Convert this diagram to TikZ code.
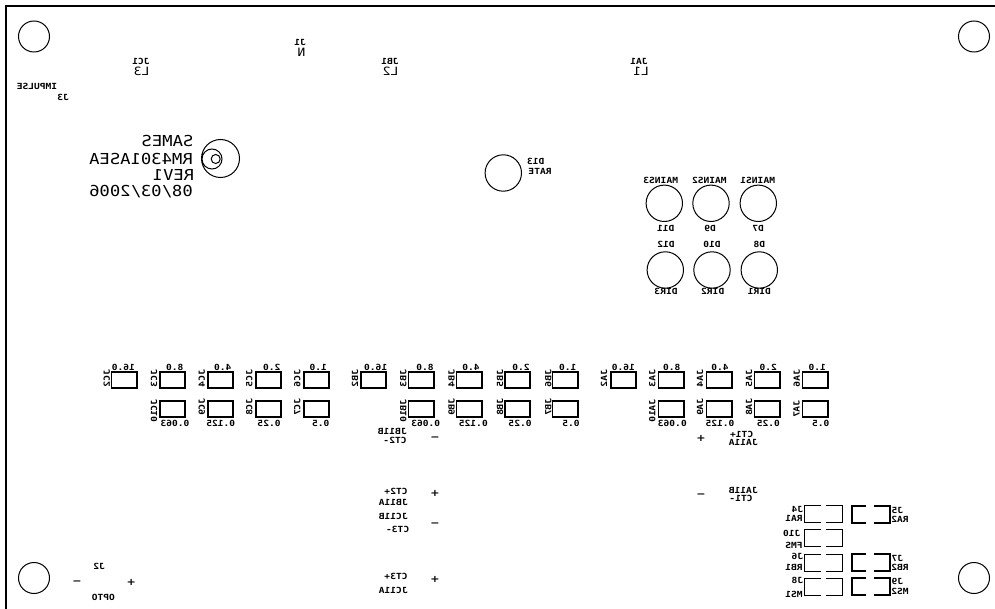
\documentclass[tikz,border=0pt]{standalone}
\usepackage{fontspec}
\usepackage{graphicx}
\newfontfamily\pcbmono{DejaVu Sans Mono}
\newfontfamily\pcbsans{DejaVu Sans}
\tikzset{
  x=1pt,y=-1pt,
  tiny lab/.style={inner sep=0pt,outer sep=0pt,font=\pcbmono\bfseries\fontsize{9.6}{10}\selectfont},
  mid lab/.style={inner sep=0pt,outer sep=0pt,font=\pcbmono\fontsize{13}{14}\selectfont},
  big lab/.style={inner sep=0pt,outer sep=0pt,font=\pcbmono\fontsize{17.2}{18}\selectfont},
  sign/.style={inner sep=0pt,outer sep=0pt,font=\pcbsans\bfseries\fontsize{11}{12}\selectfont},
  hole/.style={draw=black,line width=1pt},
  pad/.style={draw=black,line width=1.7pt},
  thin hdr/.style={draw=black,line width=1pt},
  thick hdr/.style={draw=black,line width=1.9pt},
}
\newcommand{\mtx}[5][tiny lab]{\node[#1] (#2) at (#3,#4) {\scalebox{-1}[0.88]{#5}};}
\newcommand{\vtx}[4]{\node[tiny lab] (#1) at (#2,#3) {\scalebox{-1}[1]{\rotatebox{-90}{\scalebox{1}[0.88]{#4}}}};}
\newcommand{\hdrthin}[2]{\draw[thin hdr] (#1+17,#2) -- (#1,#2) -- (#1,#2+17) -- (#1+17,#2+17) (#1+22,#2) -- (#1+38.5,#2) -- (#1+38.5,#2+17) -- (#1+22,#2+17);}
\newcommand{\hdrthick}[2]{\draw[thick hdr] (#1+14,#2) -- (#1,#2) -- (#1,#2+17) -- (#1+14,#2+17) (#1+22,#2) -- (#1+38,#2) -- (#1+38,#2+17) -- (#1+22,#2+17);}
\begin{document}
\begin{tikzpicture}
\useasboundingbox (0,0) rectangle (995,609);
\fill[white] (0,0) rectangle (995,609);
% board outline
\draw[black,line width=2.4pt] (6,609) -- (6,6) -- (995,6);
% mounting holes
\draw[hole] (34,36.5) circle (15.5) (974,36.5) circle (15.5) (34,578) circle (15.5) (974,578) circle (15.5);
% logo
\draw[hole] (220.5,158.5) circle (19) (212,159) circle (10) (215.7,159) circle (4.5);
% LEDs
\draw[hole] (503.3,173) circle (18.2);
\foreach \cx in {664.3,711,758.3} {
  \draw[hole] (\cx,203.3) circle (18.2);
  \draw[hole] (\cx+1,270) circle (18.2);
}
% top labels
\mtx{jonelab}{300}{42.7}{J1}
\mtx[mid lab]{nlab}{301.5}{52}{N}
\mtx{jclab}{141}{61}{JC1}
\mtx[mid lab]{lthree}{141.5}{71.5}{L3}
\mtx{jblab}{390}{61.5}{JB1}
\mtx[mid lab]{ltwo}{390.5}{71.5}{L2}
\mtx{jalab}{639}{61.5}{JA1}
\mtx[mid lab]{lone}{641}{71.5}{L1}
\mtx{impulse}{37}{86.3}{IMPULSE}
\mtx{jthree}{63}{97.7}{J3}
% title block
\mtx[big lab]{tsames}{167.5}{141}{SAMES}
\mtx[big lab]{tmodel}{141}{158.7}{RM4301ASEA}
\mtx[big lab]{trev}{173.5}{174.5}{REV1}
\mtx[big lab]{tdate}{141}{191.7}{08/03/2006}
% LED labels
\mtx{dthirteen}{535.7}{161}{D13}
\mtx{rate}{540}{171}{RATE}
\mtx{mainsthree}{660.7}{180}{MAINS3}
\mtx{mainstwo}{709.3}{180}{MAINS2}
\mtx{mainsone}{757.7}{180}{MAINS1}
\mtx{delev}{665.7}{228}{D11}
\mtx{dnine}{710}{228}{D9}
\mtx{dseven}{758}{228}{D7}
\mtx{dtwelve}{666}{244.3}{D12}
\mtx{dten}{712}{244.3}{D10}
\mtx{deight}{759.3}{244.3}{D8}
\mtx{dirthree}{666}{291.7}{DIR3}
\mtx{dirtwo}{712.7}{291.7}{DIR2}
\mtx{dirone}{759.3}{291.7}{DIR1}
% pads JC
\foreach \px in {111.5,160,208,256,304} {\draw[pad] (\px,372.3) rectangle ++(25.3,16);}
\foreach \px in {160,208,256,304} {\draw[pad] (\px,400.7) rectangle ++(25.3,16);}
\mtx{cwa}{123.3}{367}{16.0}
\mtx{cwb}{174.7}{367}{8.0}
\mtx{cwc}{222.7}{367}{4.0}
\mtx{cwd}{271.7}{367}{2.0}
\mtx{cwe}{318.3}{367}{1.0}
\mtx{cwf}{175}{423}{0.063}
\mtx{cwg}{220.7}{423}{0.125}
\mtx{cwh}{269}{423}{0.25}
\mtx{cwi}{320.7}{423}{0.5}
\vtx{jctwo}{106.7}{378.3}{JC2}
\vtx{jcthree}{154}{378.3}{JC3}
\vtx{jcfour}{201.7}{378.3}{JC4}
\vtx{jcfive}{249.3}{378.3}{JC5}
\vtx{jcsix}{297.3}{378.3}{JC6}
\vtx{jcten}{154}{411}{JC10}
\vtx{jcnine}{201.7}{407}{JC9}
\vtx{jceight}{249.3}{407}{JC8}
\vtx{jcseven}{297.3}{407}{JC7}
% pads JB
\foreach \px in {361,408.5,456.5,505,552.5} {\draw[pad] (\px,372.3) rectangle ++(25.3,16);}
\foreach \px in {408.5,456.5,505,552.5} {\draw[pad] (\px,400.7) rectangle ++(25.3,16);}
\mtx{bwa}{375.7}{367}{16.0}
\mtx{bwb}{425}{367}{8.0}
\mtx{bwc}{471}{367}{4.0}
\mtx{bwd}{521}{367}{2.0}
\mtx{bwe}{567.7}{367}{1.0}
\mtx{bwf}{425.7}{423}{0.063}
\mtx{bwg}{473.3}{423}{0.125}
\mtx{bwh}{520}{423}{0.25}
\mtx{bwi}{571}{423}{0.5}
\vtx{jbtwo}{355}{378.3}{JB2}
\vtx{jbthree}{403.3}{378.3}{JB3}
\vtx{jbfour}{451.7}{378.3}{JB4}
\vtx{jbfive}{500}{378.3}{JB5}
\vtx{jbsix}{548.3}{378.3}{JB6}
\vtx{jbten}{403.3}{411}{JB10}
\vtx{jbnine}{451.7}{407}{JB9}
\vtx{jbeight}{500}{407}{JB8}
\vtx{jbseven}{548.3}{407}{JB7}
% pads JA
\foreach \px in {611,658.5,706.5,754.5,802.5} {\draw[pad] (\px,372.3) rectangle ++(25.3,16);}
\foreach \px in {658.5,706.5,754.5,802.5} {\draw[pad] (\px,400.7) rectangle ++(25.3,16);}
\mtx{awa}{623.3}{367}{16.0}
\mtx{awb}{671.7}{367}{8.0}
\mtx{awc}{720}{367}{4.0}
\mtx{awd}{768.3}{367}{2.0}
\mtx{awe}{817.3}{367}{1.0}
\mtx{awf}{672.3}{423}{0.063}
\mtx{awg}{720}{423}{0.125}
\mtx{awh}{768.3}{423}{0.25}
\mtx{awi}{820.7}{423}{0.5}
\vtx{jatwo}{604}{378.3}{JA2}
\vtx{jathree}{652.3}{378.3}{JA3}
\vtx{jafour}{700}{378.3}{JA4}
\vtx{jafive}{749}{378.3}{JA5}
\vtx{jasix}{796.7}{378.3}{JA6}
\vtx{jaten}{652.3}{411}{JA10}
\vtx{janine}{700}{407}{JA9}
\vtx{jaeight}{749}{407}{JA8}
\vtx{jaseven}{796.7}{409}{JA7}
% CT labels and signs
\mtx{jbelb}{392.3}{431}{JB11B}
\mtx{cttwom}{395}{440.7}{CT2-}
\mtx[sign]{sgna}{435}{439}{−}
\mtx[sign]{sgnb}{701}{438.7}{+}
\mtx{ctonep}{741.7}{434.3}{CT1+}
\mtx{jaela}{743.3}{442.7}{JA11A}
\mtx[sign]{sgnc}{701}{495.7}{−}
\mtx{jaelb}{743.3}{490.7}{JA11B}
\mtx{ctonem}{741}{498.3}{CT1-}
\mtx{cttwop}{396}{491}{CT2+}
\mtx[sign]{sgnd}{435}{493.7}{+}
\mtx{jbela}{393.3}{502.7}{JB11A}
\mtx{jcelb}{393.3}{516.7}{JC11B}
\mtx{ctthreem}{397.7}{529}{CT3-}
\mtx[sign]{sgne}{435}{524.3}{−}
\mtx{ctthreep}{396}{576.7}{CT3+}
\mtx[sign]{sgnf}{435}{579.3}{+}
\mtx{jcela}{393.3}{590.7}{JC11A}
\mtx[sign]{sgng}{77}{582.3}{−}
\mtx[sign]{sgnh}{131.3}{582.3}{+}
\mtx{jtwo}{99}{566.5}{J2}
\mtx{opto}{103.3}{597}{OPTO}
% headers
\hdrthin{804}{505.7}
\hdrthin{804}{529.5}
\hdrthin{804}{554}
\hdrthin{804}{578}
\hdrthick{851.7}{505.7}
\hdrthick{851.7}{554}
\hdrthick{851.7}{578}
\mtx{jfour}{797.3}{509}{J4}
\mtx{raone}{794}{518.3}{RA1}
\mtx{jtenb}{791.7}{533.3}{J10}
\mtx{fms}{794}{545.7}{FMS}
\mtx{jsix}{797.3}{556.7}{J6}
\mtx{rbone}{794}{567.3}{RB1}
\mtx{jeight}{797.3}{580.7}{J8}
\mtx{msone}{794}{594}{MS1}
\mtx{jfive}{897.3}{510.7}{J5}
\mtx{ratwo}{900}{519.3}{RA2}
\mtx{jseven}{897.3}{558.3}{J7}
\mtx{rbtwo}{900}{567.3}{RB2}
\mtx{jnine}{897.3}{581.7}{J9}
\mtx{mstwo}{900}{591.7}{MS2}
\end{tikzpicture}
\end{document}
